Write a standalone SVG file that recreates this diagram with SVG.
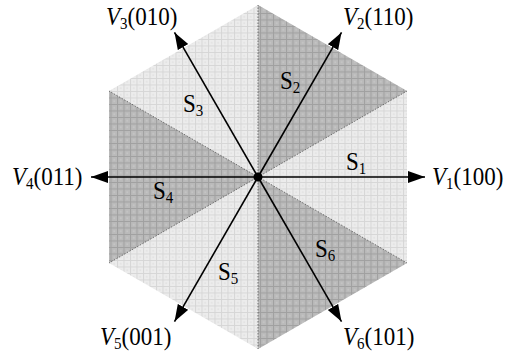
<svg xmlns="http://www.w3.org/2000/svg" width="512" height="355" viewBox="0 0 512 355">
<defs>
<pattern id="pl" width="6.5" height="6.5" patternUnits="userSpaceOnUse">
<rect width="6.5" height="6.5" fill="#ececec"/>
<path d="M0 0.5H6.5M0.5 0V6.5" stroke="#d6d6d6" stroke-width="1"/>
<rect x="3" y="3" width="1.5" height="1.5" fill="#e0e0e0"/>
</pattern>
<pattern id="pd" width="6.5" height="6.5" patternUnits="userSpaceOnUse">
<rect width="6.5" height="6.5" fill="#bababa"/>
<path d="M0 0.5H6.5M0.5 0V6.5" stroke="#a0a0a0" stroke-width="1"/>
<rect x="3" y="3" width="1.5" height="1.5" fill="#c8c8c8"/>
</pattern>
<marker id="ah" markerUnits="userSpaceOnUse" markerWidth="18" markerHeight="13" refX="17" refY="6" orient="auto">
<path d="M0 0L17 6L0 12Z" fill="#000"/>
</marker>
</defs>
<style>
.light{fill:url(#pl)}
.dark{fill:url(#pd)}
.bd{stroke:#555;stroke-width:0.8;stroke-dasharray:1.5 1.5;fill:none}
.vec{stroke:#000;stroke-width:1.6;marker-end:url(#ah)}
text{font-family:"Liberation Serif","Times New Roman",serif;font-size:23px;fill:#000}
.it{font-style:italic}
.sub{font-size:15px}
</style>
<g id="hexagon">
<polygon class="light" points="258,5 407,91 407,263 258,349 109,263 109,91"/>
<polygon class="dark" points="258,177 258,5 407,91"/>
<polygon class="dark" points="258,177 109,91 109,263"/>
<polygon class="dark" points="258,177 407,263 258,349"/>
<g id="boundaries">
<line class="bd" x1="258" y1="177" x2="258" y2="5"/>
<line class="bd" x1="258" y1="177" x2="407" y2="91"/>
<line class="bd" x1="258" y1="177" x2="407" y2="263"/>
<line class="bd" x1="258" y1="177" x2="258" y2="349"/>
<line class="bd" x1="258" y1="177" x2="109" y2="263"/>
<line class="bd" x1="258" y1="177" x2="109" y2="91"/>
</g>
</g>
<g id="connectors">
<line class="vec" x1="258" y1="177" x2="425" y2="177"/>
<line class="vec" x1="258" y1="177" x2="341.5" y2="32.4"/>
<line class="vec" x1="258" y1="177" x2="174.5" y2="32.4"/>
<line class="vec" x1="258" y1="177" x2="91" y2="177"/>
<line class="vec" x1="258" y1="177" x2="174.5" y2="321.6"/>
<line class="vec" x1="258" y1="177" x2="341.5" y2="321.6"/>
</g>
<g id="origin"><circle cx="258" cy="177" r="4.5" fill="#000"/></g>
<g id="V1"><text transform="translate(432,185) scale(1,1.05)"><tspan class="it">V</tspan><tspan class="sub" dy="4">1</tspan><tspan dy="-4">(100)</tspan></text></g>
<g id="V2"><text transform="translate(343,25) scale(1,1.05)"><tspan class="it">V</tspan><tspan class="sub" dy="4">2</tspan><tspan dy="-4">(110)</tspan></text></g>
<g id="V3"><text transform="translate(106,25) scale(1,1.05)"><tspan class="it">V</tspan><tspan class="sub" dy="4">3</tspan><tspan dy="-4">(010)</tspan></text></g>
<g id="V4"><text transform="translate(12,185) scale(1,1.05)"><tspan class="it">V</tspan><tspan class="sub" dy="4">4</tspan><tspan dy="-4">(011)</tspan></text></g>
<g id="V5"><text transform="translate(100,345) scale(1,1.05)"><tspan class="it">V</tspan><tspan class="sub" dy="4">5</tspan><tspan dy="-4">(001)</tspan></text></g>
<g id="V6"><text transform="translate(343,345) scale(1,1.05)"><tspan class="it">V</tspan><tspan class="sub" dy="4">6</tspan><tspan dy="-4">(101)</tspan></text></g>
<g id="S1"><text transform="translate(346,170) scale(1,1.05)">S<tspan class="sub" dy="4">1</tspan></text></g>
<g id="S2"><text transform="translate(280,89) scale(1,1.05)">S<tspan class="sub" dy="4">2</tspan></text></g>
<g id="S3"><text transform="translate(183,112) scale(1,1.05)">S<tspan class="sub" dy="4">3</tspan></text></g>
<g id="S4"><text transform="translate(153,199) scale(1,1.05)">S<tspan class="sub" dy="4">4</tspan></text></g>
<g id="S5"><text transform="translate(218,280) scale(1,1.05)">S<tspan class="sub" dy="4">5</tspan></text></g>
<g id="S6"><text transform="translate(315,257) scale(1,1.05)">S<tspan class="sub" dy="4">6</tspan></text></g>
</svg>
